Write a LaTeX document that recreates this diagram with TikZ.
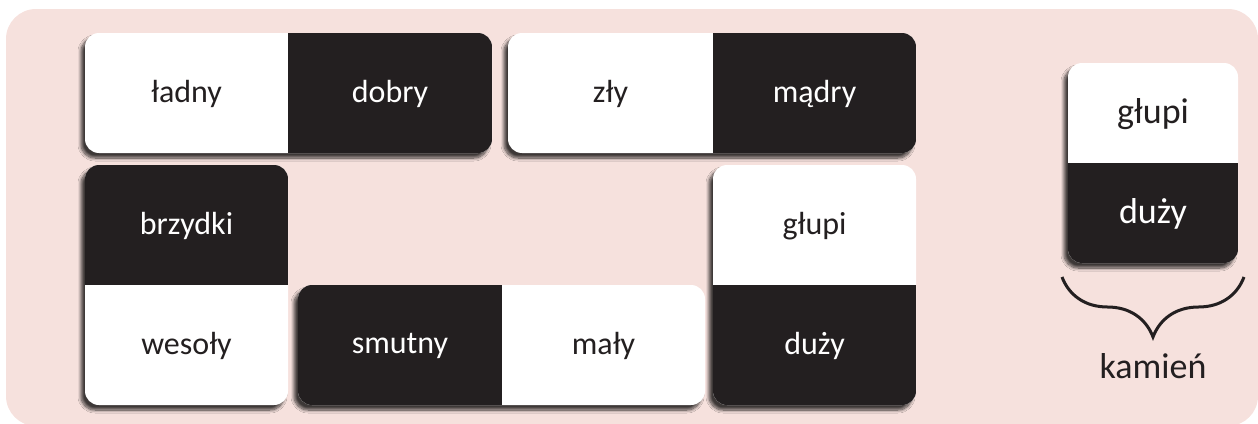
\documentclass[tikz,border=0pt]{standalone}
\usepackage{fontspec}
\setmainfont{Carlito}
\usetikzlibrary{shadows.blur,decorations.pathreplacing}
\definecolor{bgpink}{HTML}{F6E1DD}
\definecolor{ink}{HTML}{231F20}
\tikzset{
  card/.style={fill=white, rounded corners=14,
    blur shadow={shadow xshift=-4pt, shadow yshift=-5pt, shadow blur radius=3pt, shadow opacity=75, shadow blur steps=10}},
  lt/.style={text=ink, font=\fontsize{32}{38}\selectfont, inner sep=0pt},
  dt/.style={text=white, font=\fontsize{32}{38}\selectfont, inner sep=0pt},
  blt/.style={text=ink, font=\fontsize{36}{42}\selectfont, inner sep=0pt},
  bdt/.style={text=white, font=\fontsize{36}{42}\selectfont, inner sep=0pt},
}
\begin{document}
\begin{tikzpicture}[x=1pt,y=-1pt]
\useasboundingbox (0,0) rectangle (1258,423);
\fill[bgpink, rounded corners=30] (6,9) rectangle (1258,426);

% domino 1
\path[card] (85,33) rectangle (492,153);
\begin{scope}
\clip[rounded corners=14] (85,33) rectangle (492,153);
\fill[ink] (288,33) rectangle (492,153);
\end{scope}
\node[lt] (ladny) at (186.5,94) {ładny};
\node[dt] (dobry) at (390,94) {dobry};

% domino 2
\path[card] (508,33) rectangle (916,153);
\begin{scope}
\clip[rounded corners=14] (508,33) rectangle (916,153);
\fill[ink] (713,33) rectangle (916,153);
\end{scope}
\node[lt] (zly) at (610.5,94) {zły};
\node[dt] (madry) at (814.5,94) {mądry};

% domino 3 (vertical)
\path[card] (85,165) rectangle (288,405);
\begin{scope}
\clip[rounded corners=14] (85,165) rectangle (288,405);
\fill[ink] (85,165) rectangle (288,285);
\end{scope}
\node[dt] (brzydki) at (186.5,226) {brzydki};
\node[lt] (wesoly) at (186.5,346) {wesoły};

% domino 4
\path[card] (298,285) rectangle (705,405);
\begin{scope}
\clip[rounded corners=14] (298,285) rectangle (705,405);
\fill[ink] (298,285) rectangle (502,405);
\end{scope}
\node[dt] (smutny) at (400,346) {smutny};
\node[lt] (maly) at (603.5,346) {mały};

% domino 5 (vertical)
\path[card] (713,165) rectangle (916,405);
\begin{scope}
\clip[rounded corners=14] (713,165) rectangle (916,405);
\fill[ink] (713,285) rectangle (916,405);
\end{scope}
\node[lt] (glupiA) at (814.5,226) {głupi};
\node[dt] (duzyA) at (814.5,346) {duży};

% domino 6 (stone)
\path[card] (1068,63) rectangle (1238,263);
\begin{scope}
\clip[rounded corners=14] (1068,63) rectangle (1238,263);
\fill[ink] (1068,163) rectangle (1238,263);
\end{scope}
\node[blt] (glupiB) at (1153,114) {głupi};
\node[bdt] (duzyB) at (1153,214) {duży};

% brace
\coordinate (bl) at (1062,277);
\coordinate (br) at (1244,277);
\draw[ink, line width=3pt, decorate, decoration={brace, mirror, amplitude=60pt}] (bl) -- (br);
\node[blt, anchor=base] (kamien) at (1153,378) {kamień};
\end{tikzpicture}
\end{document}
